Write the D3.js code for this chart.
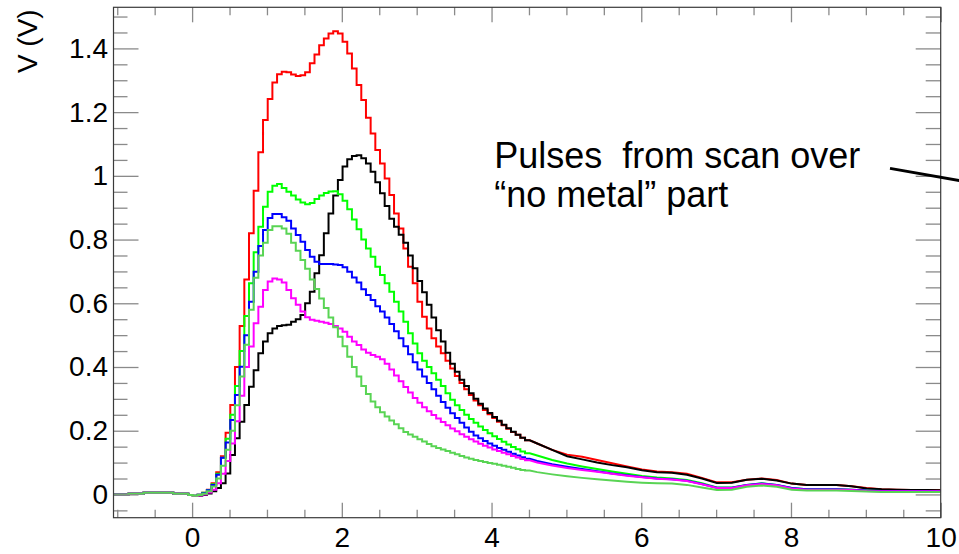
<!DOCTYPE html>
<html><head><meta charset="utf-8">
<script src="https://cdn.jsdelivr.net/npm/d3@7"></script>
<style>
body{margin:0;background:#fff}
svg{display:block}
text{font-family:"Liberation Sans",Arial,Helvetica,sans-serif;fill:#000}
</style>
</head><body>
<svg id="c" width="959" height="554"></svg>
<script>
// ---------- data ----------
const xMajorTicks = [0, 2, 4, 6, 8, 10];
const yMajorTicks = [0, 0.2, 0.4, 0.6, 0.8, 1, 1.2, 1.4];
const yTitle = "V (V)";
const noteLines = ["Pulses  from scan over", "\u201Cno metal\u201D part"];

// bin grid (ns): coarse pre-trigger bins, fine bins over the pulse, coarse tail samples
const headStarts = [-1.05, -0.85, -0.65, -0.45, -0.25, -0.05];
const fineStart = 0.01, fineWidth = 0.0625, fineCount = 72;
const tailStart = 4.51, tailWidth = 0.2, tailCount = 28;

// shared pre-trigger baseline (V)
const baseline = [0.0, 0.002, 0.005, 0.005, 0.002, -0.002];

const redFine = [-0.004,-0.001,0.005,0.015,0.035,0.07,0.12,0.194,0.281,0.40,0.529,0.675,0.82,0.953,1.074,1.175,1.241,1.293,1.319,1.327,1.325,1.318,1.313,1.316,1.325,1.353,1.381,1.41,1.431,1.447,1.454,1.447,1.421,1.384,1.337,1.285,1.238,1.182,1.133,1.081,1.039,0.992,0.94,0.882,0.835,0.772,0.715,0.663,0.605,0.558,0.521,0.49,0.464,0.443,0.42,0.395,0.372,0.35,0.33,0.312,0.295,0.28,0.265,0.252,0.24,0.228,0.217,0.206,0.196,0.187,0.178,0.17];
const redTail = [0.16,0.14,0.125,0.118,0.108,0.098,0.088,0.078,0.072,0.07,0.065,0.052,0.038,0.038,0.046,0.05,0.045,0.034,0.03,0.03,0.03,0.026,0.02,0.016,0.015,0.014,0.014,0.013];

const blackFine = [-0.005,-0.004,-0.002,0.003,0.01,0.02,0.035,0.066,0.124,0.176,0.228,0.281,0.338,0.39,0.443,0.48,0.506,0.521,0.529,0.531,0.533,0.542,0.55,0.563,0.6,0.636,0.694,0.751,0.82,0.882,0.938,0.987,1.029,1.052,1.062,1.065,1.055,1.039,1.013,0.98,0.945,0.905,0.865,0.84,0.815,0.79,0.75,0.71,0.67,0.635,0.595,0.555,0.515,0.48,0.445,0.41,0.385,0.36,0.34,0.318,0.3,0.285,0.27,0.256,0.243,0.231,0.219,0.208,0.197,0.187,0.178,0.17];
const blackTail = [0.16,0.14,0.12,0.11,0.1,0.092,0.085,0.076,0.07,0.068,0.062,0.05,0.036,0.037,0.046,0.049,0.044,0.034,0.03,0.03,0.03,0.026,0.019,0.016,0.015,0.014,0.014,0.013];

const greenFine = [-0.004,-0.001,0.005,0.014,0.032,0.065,0.115,0.175,0.25,0.34,0.45,0.56,0.663,0.76,0.84,0.903,0.95,0.969,0.974,0.962,0.95,0.938,0.926,0.916,0.911,0.915,0.927,0.938,0.946,0.951,0.952,0.942,0.922,0.895,0.863,0.832,0.8,0.772,0.746,0.715,0.689,0.663,0.636,0.605,0.574,0.542,0.506,0.474,0.443,0.42,0.40,0.38,0.36,0.34,0.318,0.297,0.28,0.265,0.25,0.237,0.225,0.213,0.202,0.192,0.183,0.174,0.165,0.157,0.149,0.142,0.135,0.129];
const greenTail = [0.122,0.108,0.097,0.088,0.08,0.072,0.065,0.058,0.053,0.05,0.045,0.035,0.022,0.022,0.03,0.035,0.03,0.02,0.016,0.016,0.016,0.015,0.012,0.011,0.011,0.011,0.011,0.011];

const blueFine = [-0.004,-0.001,0.004,0.013,0.03,0.062,0.115,0.163,0.234,0.312,0.401,0.5,0.605,0.699,0.78,0.83,0.868,0.88,0.88,0.87,0.859,0.835,0.814,0.793,0.767,0.746,0.73,0.723,0.723,0.723,0.722,0.72,0.713,0.699,0.681,0.665,0.644,0.626,0.61,0.591,0.574,0.555,0.535,0.512,0.49,0.465,0.44,0.415,0.392,0.37,0.35,0.33,0.31,0.29,0.272,0.255,0.24,0.225,0.21,0.197,0.185,0.176,0.168,0.16,0.153,0.146,0.14,0.134,0.128,0.122,0.117,0.112];
const blueTail = [0.105,0.095,0.087,0.08,0.073,0.066,0.06,0.055,0.05,0.048,0.043,0.033,0.021,0.021,0.03,0.034,0.03,0.02,0.016,0.016,0.016,0.015,0.012,0.011,0.011,0.011,0.011,0.011];

const magentaFine = [-0.005,-0.003,0.0,0.006,0.015,0.035,0.065,0.105,0.16,0.23,0.31,0.40,0.464,0.537,0.589,0.642,0.668,0.678,0.675,0.665,0.642,0.616,0.595,0.574,0.556,0.548,0.545,0.542,0.539,0.535,0.529,0.521,0.511,0.495,0.48,0.469,0.455,0.445,0.438,0.432,0.424,0.41,0.392,0.373,0.355,0.337,0.32,0.303,0.288,0.274,0.261,0.249,0.238,0.227,0.217,0.207,0.198,0.189,0.181,0.173,0.166,0.159,0.153,0.147,0.141,0.136,0.131,0.126,0.121,0.116,0.111,0.107];
const magentaTail = [0.1,0.091,0.083,0.077,0.071,0.065,0.059,0.054,0.049,0.047,0.042,0.032,0.02,0.02,0.029,0.033,0.029,0.019,0.015,0.015,0.015,0.014,0.011,0.01,0.01,0.01,0.01,0.01];

const lgreenFine = [-0.004,-0.002,0.002,0.01,0.025,0.05,0.09,0.14,0.2,0.28,0.37,0.47,0.58,0.68,0.75,0.79,0.83,0.842,0.842,0.835,0.818,0.79,0.765,0.736,0.708,0.675,0.645,0.615,0.585,0.555,0.525,0.495,0.465,0.432,0.40,0.37,0.34,0.315,0.292,0.274,0.258,0.245,0.232,0.22,0.208,0.196,0.188,0.181,0.173,0.166,0.158,0.151,0.146,0.141,0.136,0.131,0.126,0.121,0.116,0.112,0.108,0.105,0.102,0.099,0.096,0.093,0.09,0.087,0.084,0.08,0.077,0.075];
const lgreenTail = [0.07,0.063,0.057,0.052,0.048,0.044,0.04,0.037,0.035,0.034,0.03,0.022,0.014,0.015,0.024,0.028,0.024,0.015,0.012,0.012,0.012,0.011,0.009,0.008,0.008,0.008,0.008,0.008];

const seriesNames = ["red", "black", "green", "blue", "magenta", "lgreen"];
const seriesColors = ["#ff0000", "#000000", "#00ff00", "#0000ff", "#ff00ff", "#59d454"];
const seriesFine = [redFine, blackFine, greenFine, blueFine, magentaFine, lgreenFine];
const seriesTail = [redTail, blackTail, greenTail, blueTail, magentaTail, lgreenTail];

// ---------- chart ----------
const W = 959, H = 554;
const plot = {left: 113.5, right: 940.7, top: 7.3, bottom: 517.7};
const x = d3.scaleLinear().domain([-1.05, 10]).range([plot.left, plot.right]);
const y = d3.scaleLinear().domain([-0.073, 1.529]).range([plot.bottom, plot.top]);

const svg = d3.select("#c");
svg.append("rect").attr("width", W).attr("height", H).attr("fill", "#fff");

svg.append("defs").append("clipPath").attr("id", "clip")
  .append("rect").attr("x", plot.left).attr("y", plot.top)
  .attr("width", plot.right - plot.left).attr("height", plot.bottom - plot.top);

// bin geometry
const headEnds = headStarts.slice(1).concat([fineStart]);
const fineStarts = d3.range(fineCount).map(k => fineStart + k * fineWidth);
const tailCenters = d3.range(tailCount).map(k => tailStart + (k + 0.5) * tailWidth);
const lastEdge = tailStart + tailCount * tailWidth;

const line = d3.line().x(d => x(d[0])).y(d => y(d[1])).curve(d3.curveLinear);

function seriesPoints(fine, tail) {
  const pts = [];
  // step histogram for pre-trigger + pulse bins
  headStarts.forEach((t, j) => { pts.push([t, baseline[j]], [headEnds[j], baseline[j]]); });
  fineStarts.forEach((t, j) => { pts.push([t, fine[j]], [t + fineWidth, fine[j]]); });
  // slowly varying tail: finely binned in the original, drawn through sample centres
  tailCenters.forEach((t, j) => pts.push([t, tail[j]]));
  pts.push([lastEdge, tail[tail.length - 1]]);
  return pts;
}

const gLines = svg.append("g").attr("clip-path", "url(#clip)");
seriesNames.forEach((name, i) => {
  gLines.append("path")
    .attr("class", "series " + name)
    .attr("d", line(seriesPoints(seriesFine[i], seriesTail[i])))
    .attr("fill", "none")
    .attr("stroke", seriesColors[i])
    .attr("stroke-width", 2)
    .attr("stroke-linejoin", "miter");
});

// axes (ticks inward, ROOT style)
const tickColor = "#8a8a8a";
const xMinor = d3.range(-1, 10.001, 0.5).filter(v => !xMajorTicks.includes(v));
const yMinor = d3.range(-0.05, 1.5001, 0.05).map(v => +v.toFixed(2)).filter(v => !yMajorTicks.some(m => Math.abs(m - v) < 1e-6));

function styleAxis(g) {
  g.select(".domain").remove();
  g.selectAll(".tick line").attr("stroke", tickColor).attr("stroke-width", 1.3);
  g.selectAll(".tick text").attr("font-size", 28).attr("fill", "#000")
    .attr("font-family", '"Liberation Sans",Arial,sans-serif');
}

// bottom
svg.append("g").attr("transform", `translate(0,${plot.bottom})`)
  .call(d3.axisBottom(x).tickValues(xMinor).tickSize(-8).tickFormat(""))
  .call(styleAxis);
svg.append("g").attr("transform", `translate(0,${plot.bottom})`)
  .call(d3.axisBottom(x).tickValues(xMajorTicks).tickSize(-15).tickPadding(9.5).tickFormat(d3.format("~g")))
  .call(styleAxis);
// top
svg.append("g").attr("transform", `translate(0,${plot.top})`)
  .call(d3.axisTop(x).tickValues(xMinor).tickSize(-8).tickFormat(""))
  .call(styleAxis);
svg.append("g").attr("transform", `translate(0,${plot.top})`)
  .call(d3.axisTop(x).tickValues(xMajorTicks).tickSize(-15).tickFormat(""))
  .call(styleAxis);
// left
svg.append("g").attr("transform", `translate(${plot.left},0)`)
  .call(d3.axisLeft(y).tickValues(yMinor).tickSize(-14).tickFormat(""))
  .call(styleAxis);
svg.append("g").attr("transform", `translate(${plot.left},0)`)
  .call(d3.axisLeft(y).tickValues(yMajorTicks).tickSize(-25).tickPadding(5.5).tickFormat(d3.format("~g")))
  .call(styleAxis);
// right
svg.append("g").attr("transform", `translate(${plot.right},0)`)
  .call(d3.axisRight(y).tickValues(yMinor).tickSize(-15).tickFormat(""))
  .call(styleAxis);
svg.append("g").attr("transform", `translate(${plot.right},0)`)
  .call(d3.axisRight(y).tickValues(yMajorTicks).tickSize(-25).tickFormat(""))
  .call(styleAxis);

// frame
svg.append("rect")
  .attr("x", plot.left).attr("y", plot.top)
  .attr("width", plot.right - plot.left).attr("height", plot.bottom - plot.top)
  .attr("fill", "none").attr("stroke", "#3a3a3a").attr("stroke-width", 1.2);

// y title
svg.append("text")
  .attr("transform", `translate(37,${plot.top + 2}) rotate(-90)`)
  .attr("text-anchor", "end")
  .attr("font-size", 28)
  .text(yTitle);

// annotation
const note = svg.append("text").attr("font-size", 36).style("white-space", "pre");
noteLines.forEach((s, i) => {
  note.append("tspan").attr("x", x(4.035)).attr("y", y(1.0235) + i * 38.4).text(s);
});
svg.append("line")
  .attr("x1", x(9.323)).attr("y1", y(1.0235))
  .attr("x2", x(10.3)).attr("y2", y(0.983))
  .attr("stroke", "#000").attr("stroke-width", 3);
</script>
</body></html>
